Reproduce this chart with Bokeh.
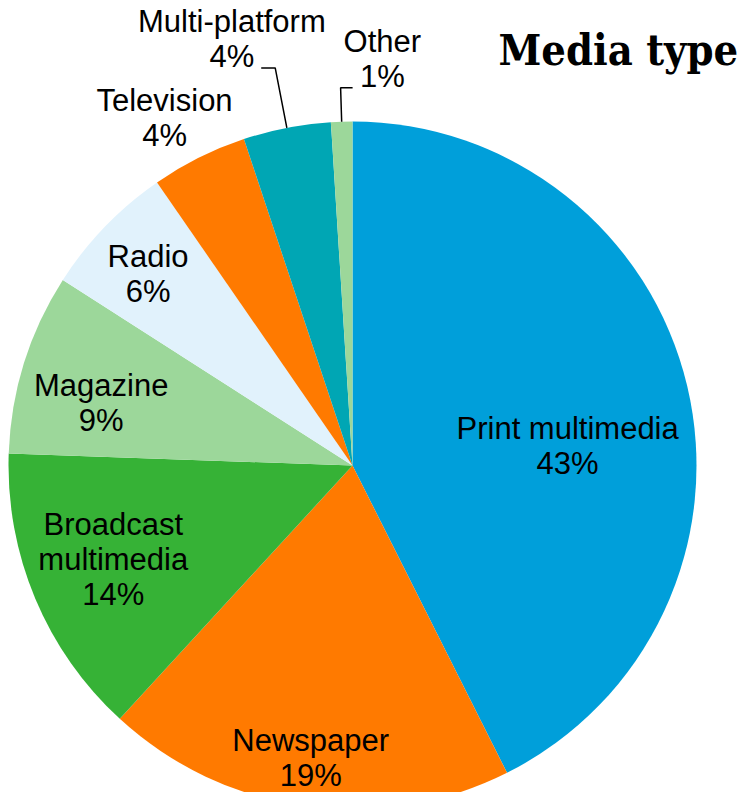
import math
from bokeh.plotting import figure
from bokeh.models import Range1d, ColumnDataSource
from bokeh.core.properties import value
from bokeh.embed import file_html
from bokeh.resources import INLINE

# ---- data ----
categories = ["Print multimedia", "Newspaper", "Broadcast\nmultimedia", "Magazine",
              "Radio", "Television", "Multi-platform", "Other"]
shares = [42.5, 19.2, 13.7, 8.5, 6.3, 4.5, 4.1, 1.0]
pct_labels = ["43%", "19%", "14%", "9%", "6%", "4%", "4%", "1%"]
title_text = "Media type"

# ---- styling / layout ----
colors = ["#009FDA", "#FF7A00", "#36B236", "#9CD79A", "#E1F2FC", "#FF7A00", "#00A6B4", "#9CD79A"]
# label placement: (radius in px, angular nudge in degrees clockwise)
label_layout = [(216, 8.2), (295, 0.2), (257, 1.3), (259, -3.3),
                (280, -0.9), (395, -1.9), (443, -4.8), (408, 6.0)]
# leader lines: index -> (elbow radius, horizontal tail)
leaders = {6: (405, -14), 7: (378, 12)}

W, H = 739, 792
CX, CY, R = 352, 327, 344
FONT = "Liberation Sans"

total = sum(shares)
starts, ends, mids = [], [], []
acc = 0.0
for s in shares:
    t0 = acc / total * 360.0
    acc += s
    t1 = acc / total * 360.0
    starts.append(math.pi / 2 - math.radians(t0))
    ends.append(math.pi / 2 - math.radians(t1))
    mids.append((t0 + t1) / 2)

p = figure(width=W, height=H, output_backend="svg", toolbar_location=None,
           x_range=Range1d(0, W), y_range=Range1d(0, H), min_border=0)
p.axis.visible = False
p.grid.visible = False
p.outline_line_color = None
p.background_fill_color = "white"

src = ColumnDataSource(dict(x=[CX] * len(shares), y=[CY] * len(shares),
                            start=starts, end=ends, color=colors))
p.wedge(x="x", y="y", radius=R, start_angle="start", end_angle="end",
        direction="clock", fill_color="color", line_color=None, source=src)

lx, ly, lt = [], [], []
for i, (cat, pct) in enumerate(zip(categories, pct_labels)):
    r, nudge = label_layout[i]
    th = math.radians(mids[i] + nudge)
    lx.append(CX + r * math.sin(th))
    ly.append(CY + r * math.cos(th))
    lt.append(cat + "\n" + pct)

p.text(x=lx, y=ly, text=lt, text_align="center", text_baseline="middle",
       text_font=value(FONT), text_font_size="31px", text_color="black",
       text_line_height=1.0)

for i, (er, tail) in leaders.items():
    th = math.radians(mids[i])
    x0, y0 = CX + R * math.sin(th), CY + R * math.cos(th)
    x1, y1 = CX + er * math.sin(th), CY + er * math.cos(th)
    p.line([x0, x1, x1 + tail], [y0, y1, y1], line_color="black", line_width=1.5)

p.text(x=[498], y=[H - 49], text=[title_text], text_align="left", text_baseline="alphabetic",
       text_font=value("DejaVu Serif Condensed"), text_font_style="bold",
       text_font_size="43px", text_color="black")

open("out.html", "w").write(file_html(p, INLINE))
